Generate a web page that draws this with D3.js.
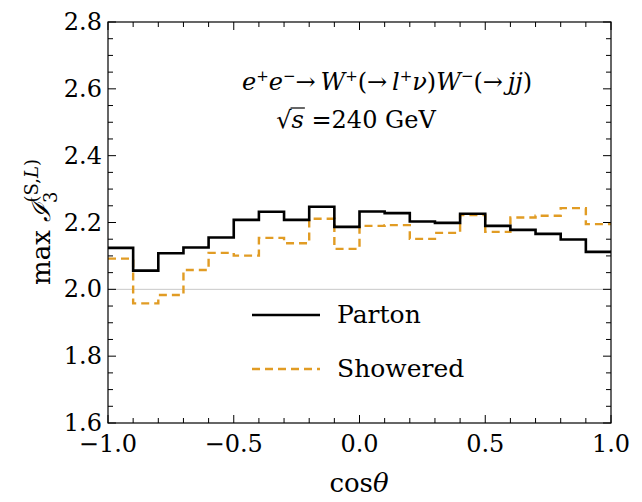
<!DOCTYPE html>
<html>
<head>
<meta charset="utf-8">
<script src="https://cdn.jsdelivr.net/npm/d3@7"></script>
<style>
    body { margin: 0; background: #fff; }
    svg text { font-family: "DejaVu Serif", serif; fill: #000; }
</style>
</head>
<body>
<svg id="chart" width="642" height="502"></svg>
<script>
// --- Data ---
const binEdges = [-1.0, -0.9, -0.8, -0.7, -0.6, -0.5, -0.4, -0.3, -0.2, -0.1, 0.0,
    0.1, 0.2, 0.3, 0.4, 0.5, 0.6, 0.7, 0.8, 0.9, 1.0];
const partonValues = [2.124, 2.056, 2.108, 2.125, 2.155, 2.208, 2.232, 2.208, 2.247, 2.187,
    2.233, 2.228, 2.203, 2.199, 2.226, 2.190, 2.178, 2.166, 2.149, 2.112];
const showeredValues = [2.092, 1.958, 1.983, 2.058, 2.109, 2.101, 2.154, 2.138, 2.211, 2.121,
    2.190, 2.192, 2.151, 2.169, 2.222, 2.172, 2.215, 2.220, 2.243, 2.195];
const xTickLabels = [-1.0, -0.5, 0.0, 0.5, 1.0];
const yTickLabels = [1.6, 1.8, 2.0, 2.2, 2.4, 2.6, 2.8];
const seriesNames = ["Parton", "Showered"];

const svg = d3.select("#chart");

const plotL = 108, plotR = 611, plotT = 22, plotB = 423;
const x = d3.scaleLinear().domain([-1, 1]).range([plotL, plotR]);
const y = d3.scaleLinear().domain([1.6, 2.8]).range([plotB, plotT]);

const orange = "#e19c24";
const fmt = d => d3.format(".1f")(d).replace("-", "\u2212");

// reference line at 2.0
svg.append("line")
    .attr("x1", plotL).attr("x2", plotR)
    .attr("y1", y(2.0)).attr("y2", y(2.0))
    .attr("stroke", "#c8c8c8").attr("stroke-width", 1);

// --- Histograms ---
function stepPoints(values) {
    const pts = values.map((v, i) => [binEdges[i], v]);
    pts.push([binEdges[binEdges.length - 1], values[values.length - 1]]);
    return pts;
}
const line = d3.line()
    .x(d => x(d[0]))
    .y(d => y(d[1]))
    .curve(d3.curveStepAfter);

svg.append("path")
    .attr("d", line(stepPoints(showeredValues)))
    .attr("fill", "none")
    .attr("stroke", orange)
    .attr("stroke-width", 2.4)
    .attr("stroke-dasharray", "8,5");

svg.append("path")
    .attr("d", line(stepPoints(partonValues)))
    .attr("fill", "none")
    .attr("stroke", "#000")
    .attr("stroke-width", 2.6);

// --- Frame and ticks ---
svg.append("rect")
    .attr("x", plotL).attr("y", plotT)
    .attr("width", plotR - plotL).attr("height", plotB - plotT)
    .attr("fill", "none").attr("stroke", "#000").attr("stroke-width", 1.2);

const xMinor = d3.range(-10, 11).map(i => i / 10);
const yMinor = d3.range(32, 57).map(i => i / 20);
const isMajor = (v, step) => Math.abs(v / step - Math.round(v / step)) < 1e-6;

const ticks = svg.append("g").attr("stroke", "#000").attr("stroke-width", 1);
xMinor.forEach(v => {
    const len = isMajor(v, 0.5) ? 8 : 5;
    ticks.append("line").attr("x1", x(v)).attr("x2", x(v)).attr("y1", plotB).attr("y2", plotB - len);
    ticks.append("line").attr("x1", x(v)).attr("x2", x(v)).attr("y1", plotT).attr("y2", plotT + len);
});
yMinor.forEach(v => {
    const len = isMajor(v, 0.2) ? 8 : 5;
    ticks.append("line").attr("x1", plotL).attr("x2", plotL + len).attr("y1", y(v)).attr("y2", y(v));
    ticks.append("line").attr("x1", plotR).attr("x2", plotR - len).attr("y1", y(v)).attr("y2", y(v));
});

// tick labels
svg.append("g").selectAll("text")
    .data(xTickLabels).enter().append("text")
    .attr("x", d => x(d)).attr("y", 452)
    .attr("text-anchor", "middle")
    .attr("font-size", 24)
    .text(fmt);

svg.append("g").selectAll("text")
    .data(yTickLabels).enter().append("text")
    .attr("x", 102).attr("y", d => y(d) + 8)
    .attr("text-anchor", "end")
    .attr("font-size", 24)
    .text(fmt);

// --- Axis titles ---
const xTitle = svg.append("text")
    .attr("x", 359).attr("y", 492)
    .attr("text-anchor", "middle")
    .attr("font-size", 26);
xTitle.append("tspan").text("cos");
xTitle.append("tspan").attr("font-style", "italic").text("\u03b8");

const yTitle = svg.append("text")
    .attr("transform", "translate(50,222) rotate(-90)")
    .attr("text-anchor", "middle")
    .attr("font-size", 26);
yTitle.append("tspan").text("max ");
yTitle.append("tspan").attr("font-style", "italic").text("\u2110");
yTitle.append("tspan").attr("font-size", 18).attr("dy", 7).text("3");
yTitle.append("tspan").attr("font-size", 18).attr("dx", -11).attr("dy", -19).text("(S,");
yTitle.append("tspan").attr("font-size", 18).attr("font-style", "italic").text("L");
yTitle.append("tspan").attr("font-size", 18).text(")");

// --- Process label ---
// segments: text, italic, shift (+1 sup / 0 normal)
const processSegs = [
    ["e", true, 0], ["+", false, 1], ["e", true, 0], ["\u2212", false, 1],
    ["\u2192\u2009", false, 0], ["W", true, 0], ["+", false, 1], ["(\u2192\u2009", false, 0],
    ["l", true, 0], ["+", false, 1], ["\u03bd", true, 0], [")", false, 0],
    ["W", true, 0], ["\u2212", false, 1], ["(\u2192\u2009", false, 0], ["jj", true, 0], [")", false, 0]
];
const title = svg.append("text")
    .attr("x", 387).attr("y", 90)
    .attr("text-anchor", "middle")
    .attr("font-size", 24);
let level = 0;
processSegs.forEach(([t, it, s]) => {
    const ts = title.append("tspan").text(t);
    if (it) ts.attr("font-style", "italic");
    if (s !== level) ts.attr("dy", (level - s) * 9);
    if (s === 1) ts.attr("font-size", 15);
    level = s;
});

const energy = svg.append("text")
    .attr("x", 356).attr("y", 128)
    .attr("text-anchor", "middle")
    .attr("font-size", 24);
energy.append("tspan").text("\u221a");
energy.append("tspan").attr("font-style", "italic").text("s");
energy.append("tspan").text(" =240 GeV");
// bar over the radical
const rootBox = energy.node().getExtentOfChar(0);
const sBox = energy.node().getExtentOfChar(1);
svg.append("line")
    .attr("x1", rootBox.x + rootBox.width - 1).attr("x2", sBox.x + sBox.width + 1)
    .attr("y1", rootBox.y + 2).attr("y2", rootBox.y + 2)
    .attr("stroke", "#000").attr("stroke-width", 1.2);

// --- Legend ---
const legend = svg.append("g");
seriesNames.forEach((name, i) => {
    const ly = 315 + i * 54;
    legend.append("line")
        .attr("x1", 252).attr("x2", 320)
        .attr("y1", ly).attr("y2", ly)
        .attr("stroke", i === 0 ? "#000" : orange)
        .attr("stroke-width", i === 0 ? 2.6 : 2.4)
        .attr("stroke-dasharray", i === 0 ? null : "8,5");
    legend.append("text")
        .attr("x", 337).attr("y", ly + 8)
        .attr("font-size", 25)
        .text(name);
});
</script>
</body>
</html>
